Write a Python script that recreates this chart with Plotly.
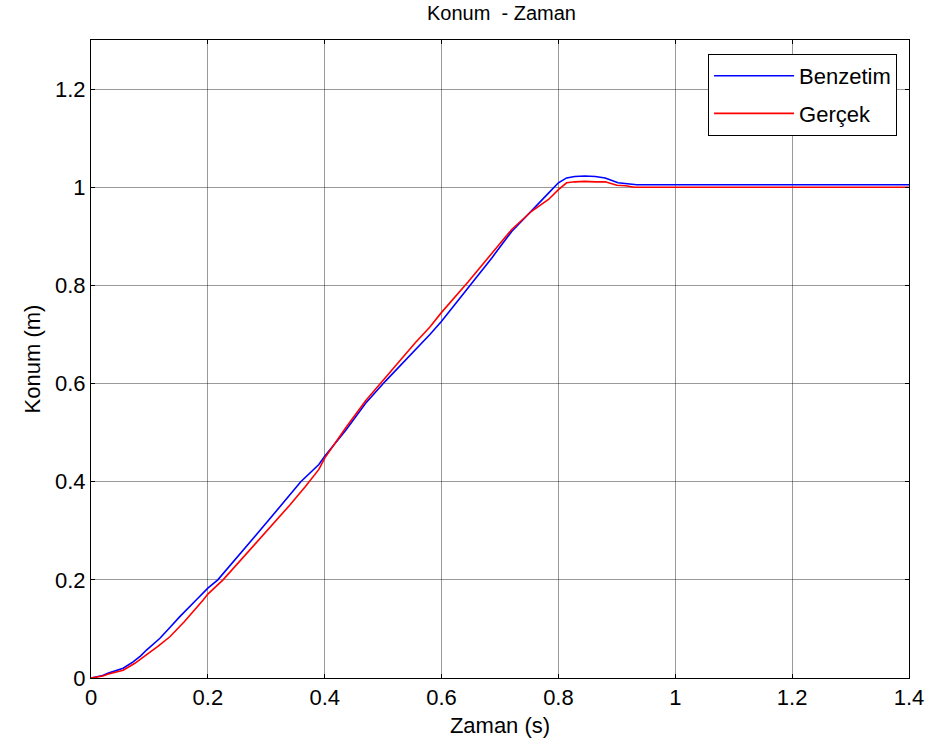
import plotly.graph_objects as go

# Benzetim (simulation) series
t_benzetim = [0, 0.01, 0.02, 0.03, 0.04, 0.055, 0.072, 0.085, 0.095, 0.118, 0.135, 0.152,
              0.18, 0.2, 0.217, 0.25, 0.28, 0.31, 0.34, 0.359, 0.39, 0.4, 0.436, 0.47,
              0.504, 0.53, 0.555, 0.58, 0.6, 0.646, 0.686, 0.72, 0.754, 0.783, 0.8,
              0.814, 0.828, 0.845, 0.863, 0.88, 0.902, 0.925, 0.934, 1.0, 1.2, 1.4]
v_benzetim = [0, 0.003, 0.005, 0.01, 0.014, 0.02, 0.033, 0.045, 0.057, 0.081, 0.103, 0.125,
              0.159, 0.183, 0.2, 0.245, 0.288, 0.33, 0.373, 0.4, 0.435, 0.452, 0.505, 0.56,
              0.605, 0.637, 0.668, 0.7, 0.727, 0.795, 0.856, 0.91, 0.951, 0.988, 1.009,
              1.019, 1.022, 1.023, 1.022, 1.019, 1.009, 1.007, 1.005, 1.005, 1.005, 1.005]

# Gerçek (real) series
t_gercek = [0, 0.01, 0.02, 0.03, 0.04, 0.055, 0.075, 0.095, 0.115, 0.135, 0.16, 0.192,
            0.2, 0.226, 0.26, 0.3, 0.34, 0.367, 0.39, 0.4, 0.436, 0.47, 0.504, 0.53,
            0.555, 0.58, 0.6, 0.646, 0.686, 0.72, 0.754, 0.783, 0.8, 0.814, 0.828,
            0.845, 0.863, 0.88, 0.9, 0.915, 0.93, 1.0, 1.2, 1.4]
v_gercek = [0, 0.002, 0.004, 0.008, 0.011, 0.016, 0.03, 0.047, 0.065, 0.084, 0.115, 0.159,
            0.171, 0.2, 0.245, 0.298, 0.352, 0.39, 0.425, 0.448, 0.51, 0.565, 0.612, 0.648,
            0.683, 0.715, 0.745, 0.808, 0.866, 0.914, 0.951, 0.975, 0.995, 1.009, 1.011,
            1.012, 1.011, 1.011, 1.004, 1.003, 1.0, 1.0, 1.0, 1.0]

x_ticks = [0, 0.2, 0.4, 0.6, 0.8, 1.0, 1.2, 1.4]
x_tick_labels = ["0", "0.2", "0.4", "0.6", "0.8", "1", "1.2", "1.4"]
y_ticks = [0, 0.2, 0.4, 0.6, 0.8, 1.0, 1.2]
y_tick_labels = ["0", "0.2", "0.4", "0.6", "0.8", "1", "1.2"]

FONT = "Liberation Sans, Arial, sans-serif"

fig = go.Figure()
fig.add_trace(go.Scatter(x=t_benzetim, y=v_benzetim, mode="lines", name="Benzetim",
                         legendgroup="a", line=dict(color="#0000ff", width=1.6)))
fig.add_trace(go.Scatter(x=t_gercek, y=v_gercek, mode="lines", name="Gerçek",
                         legendgroup="b", line=dict(color="#ff0000", width=1.6)))

grid = "rgba(0,0,0,0.4)"
fig.update_layout(
    width=936, height=752,
    margin=dict(l=91, r=24, t=40, b=74),
    plot_bgcolor="white", paper_bgcolor="white",
    font=dict(family=FONT, size=22, color="black"),
    title=dict(text="Konum  - Zaman", x=(91 + 912) / 2 / 936, xanchor="center",
               y=1 - 13 / 752, yanchor="middle", font=dict(size=20, family=FONT)),
    xaxis=dict(range=[0, 1.4], tickvals=x_ticks, ticktext=x_tick_labels,
               showgrid=True, gridcolor=grid, gridwidth=1, zeroline=False,
               showline=True, linecolor="black", linewidth=1, mirror="ticks",
               ticks="inside", ticklen=4, tickcolor="black",
               tickfont=dict(size=22),
               title=dict(text="Zaman (s)", standoff=8, font=dict(size=22))),
    yaxis=dict(range=[0, 1.3], tickvals=y_ticks, ticktext=y_tick_labels,
               showgrid=True, gridcolor=grid, gridwidth=1, zeroline=False,
               showline=True, linecolor="black", linewidth=1, mirror="ticks",
               ticks="inside", ticklen=4, tickcolor="black",
               tickfont=dict(size=22),
               title=dict(text="Konum (m)", standoff=8, font=dict(size=22))),
    legend=dict(x=(900 - 91) / 821, y=(678 - 54) / 638, xanchor="right", yanchor="top",
                bgcolor="white", bordercolor="black", borderwidth=1,
                font=dict(size=22, family=FONT), traceorder="grouped",
                tracegroupgap=6, itemwidth=80),
)

fig.write_html("out.html", config={"displayModeBar": False},
               post_script="document.body.style.margin='0px';")
